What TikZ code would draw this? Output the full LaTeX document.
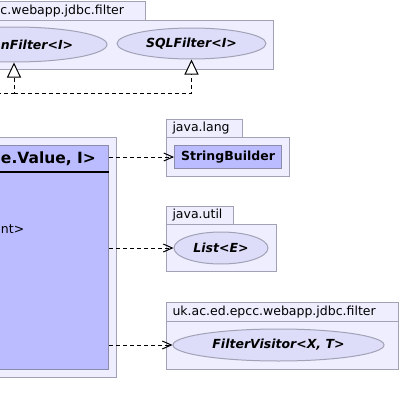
\documentclass[tikz,border=0pt]{standalone}
\usepackage{fontspec}
\setmainfont{DejaVu Sans}
\usetikzlibrary{arrows.meta,shapes.geometric,positioning}
\definecolor{pkgfill}{HTML}{EEEEFF}
\definecolor{pkgline}{HTML}{A2A2B6}
\definecolor{classfill}{HTML}{BBBBFF}
\definecolor{classline}{HTML}{8C8CAA}
\definecolor{ifacefill}{HTML}{DDDDFA}

\begin{document}
\begin{tikzpicture}
        [x=1pt, y=-1pt, line width=1pt,
        font=\fontsize{12.5}{14}\selectfont,
        pkgbody/.style={rectangle, draw=pkgline, fill=pkgfill, anchor=north west, inner sep=0pt},
        pkgtab/.style={rectangle, draw=pkgline, fill=pkgfill, anchor=north west, inner xsep=6pt, inner ysep=0pt, text width=#1, align=left},
        klass/.style={rectangle, draw=classline, fill=classfill, inner sep=0pt},
        iface/.style={ellipse, draw=pkgline, fill=ifacefill, inner sep=0pt, font=\fontsize{12.5}{14}\selectfont\bfseries\itshape},
        cuttext/.style={inner sep=0pt},
        depend/.style={dashed, dash pattern=on 4pt off 3pt, -{Straight Barb[length=9pt,width=8pt]}},
        realize/.style={dashed, dash pattern=on 4pt off 3pt, -{Triangle[length=15pt,width=14pt,fill=white]}}]
        \clip (0,0) rectangle (401,415);
        \fill[white] (0,0) rectangle (401,415);
        % webapp.jdbc.filter package (top)
        \node[pkgbody, minimum width=379pt, minimum height=49pt] (toppkg) at (-106,20) {};
        \node[pkgtab=139pt, minimum height=19pt] (toptab) at (-6,1) {c.webapp.jdbc.filter};
        \node[iface, minimum width=186pt, minimum height=35pt] (patfilter) at (14,44.5) {};
        \node[cuttext, anchor=west, font=\fontsize{12.5}{14}\selectfont\bfseries\itshape] (patname) at (0.5,44.5) {nFilter<I>};
        \node[iface, minimum width=149pt, minimum height=31pt] (sqlfilter) at (191.5,43.5) {SQLFilter<I>};
        % package holding the class
        \node[pkgbody, minimum width=166pt, minimum height=240pt] (classpkg) at (-50,137) {};
        \node[klass, anchor=north west, minimum width=150pt, minimum height=224pt] (filtclass) at (-42,145) {};
        \draw[line width=2pt] (filtclass.west |- 0,172) -- (filtclass.east |- 0,172);
        \node[cuttext, anchor=west, font=\fontsize{15.5}{18}\selectfont\bfseries] (classname) at (0.5,159) {e.Value, I>};
        \node[cuttext, anchor=west] (member) at (0.5,229) {nt>};
        % java.lang
        \node[pkgbody, minimum width=123pt, minimum height=39pt] (langpkg) at (166,137) {};
        \node[pkgtab=64pt, minimum height=18pt] (langtab) at (166,119) {java.lang};
        \node[klass, anchor=north west, minimum width=107pt, minimum height=23pt, font=\fontsize{12.5}{14}\selectfont\bfseries] (strbuild) at (174,145) {StringBuilder};
        % java.util
        \node[pkgbody, minimum width=110pt, minimum height=47pt] (utilpkg) at (166,224) {};
        \node[pkgtab=55pt, minimum height=18pt] (utiltab) at (166,206) {java.util};
        \node[iface, minimum width=94pt, minimum height=32pt] (listE) at (221,248) {List<E>};
        % uk.ac.ed.epcc.webapp.jdbc.filter
        \node[pkgbody, minimum width=232pt, minimum height=48pt] (filterpkg) at (166,321) {};
        \node[pkgtab=220pt, minimum height=19pt] (filtertab) at (166,302) {uk.ac.ed.epcc.webapp.jdbc.filter};
        \node[iface, minimum width=211pt, minimum height=32pt] (fvisitor) at (278.5,345) {FilterVisitor<X, T>};
        % realizations
        \coordinate (impl) at (-10,93);
        \coordinate (join) at (patfilter.south |- impl);
        \draw[realize] (impl) -| (patfilter.south);
        \draw[realize] (join) -| (sqlfilter.south);
        % dependencies
        \draw[depend] (filtclass.east |- strbuild) -- (strbuild);
        \draw[depend] (filtclass.east |- listE) -- (listE);
        \draw[depend] (filtclass.east |- fvisitor) -- (fvisitor);
\end{tikzpicture}
\end{document}
